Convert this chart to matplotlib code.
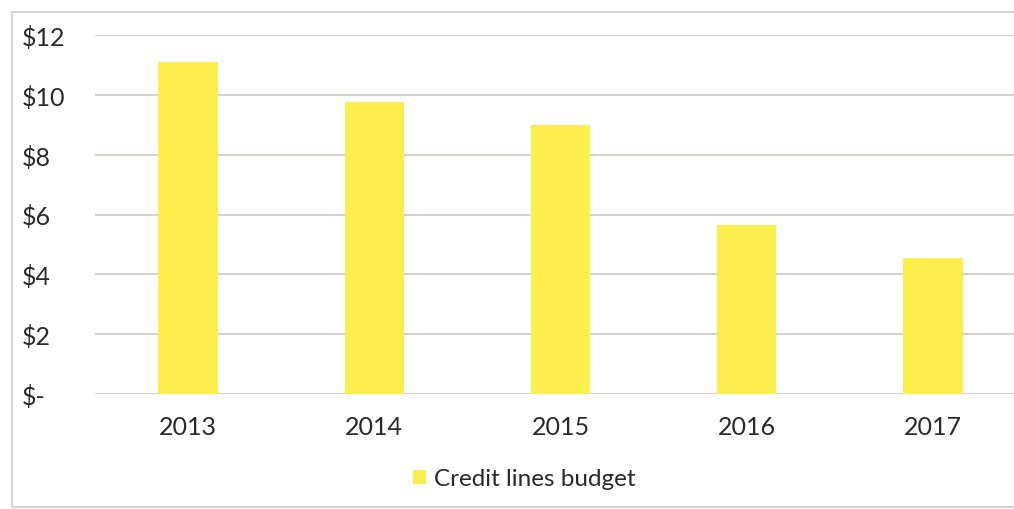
import matplotlib.pyplot as plt
from matplotlib.patches import Rectangle

years = ['2013', '2014', '2015', '2016', '2017']
budget = [11.1, 9.75, 9.0, 5.65, 4.55]
yticks = [0, 2, 4, 6, 8, 10, 12]
ytick_labels = ['$-', '$2', '$4', '$6', '$8', '$10', '$12']

plt.rcParams['font.family'] = ['Lato', 'DejaVu Sans']

fig = plt.figure(figsize=(10.14, 5.1), dpi=100)
fig.patches.append(Rectangle((12 / 1014, 2 / 510), 1.1, 495 / 510, transform=fig.transFigure,
                             fill=False, edgecolor='#d4d4d4', linewidth=1.5))

ax = fig.add_axes([95 / 1014, 115 / 510, 931 / 1014, 359 / 510])
x = range(len(years))
ax.bar(x, budget, width=0.32, color='#fcee4c', label='Credit lines budget', zorder=3)

ax.set_ylim(0, 12)
ax.set_xlim(-0.5, len(years) - 0.5)
ax.set_yticks(yticks)
ax.set_yticklabels(ytick_labels)
ax.set_xticks(list(x))
ax.set_xticklabels(years)
ax.yaxis.grid(True, color='#d6d2d0', linewidth=1.5, zorder=0)
for s in ax.spines.values():
    s.set_visible(False)
ax.tick_params(axis='both', length=0, labelsize=18, colors='#2a2a2a')
# pad is in points (72/100 of a pixel here)
ax.tick_params(axis='y', pad=53)
ax.tick_params(axis='x', pad=15)
for lbl in ax.get_yticklabels():
    lbl.set_horizontalalignment('left')

fig.legend(loc='center', bbox_to_anchor=(524 / 1014, 1 - 480 / 510), frameon=False,
           fontsize=17.5, handlelength=0.55, handleheight=0.55, handletextpad=0.3,
           labelcolor='#2a2a2a')

fig.savefig('out.png', dpi=100)
